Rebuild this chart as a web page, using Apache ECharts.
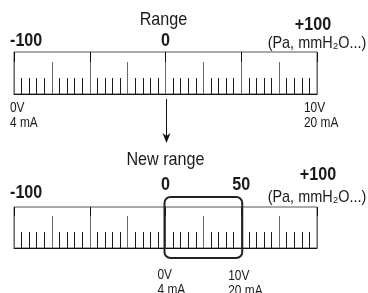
<!DOCTYPE html>
<html><head><meta charset="utf-8">
<script src="https://cdn.jsdelivr.net/npm/echarts@6/dist/echarts.min.js"></script>
<style>html,body{margin:0;padding:0;background:#fff}#c{width:368px;height:293px}</style>
</head><body><div id="c"></div>
<script>
// ---- data ----
const scaleMin = -100;
const scaleMax = 100;
const majorStep = 50;
const mediumStep = 25;
const minorPerMedium = 5;           // minor ticks every 5 units
const topTitle = 'Range';
const bottomTitle = 'New range';
const topLabelValues = [-100, 0, 100];
const topLabelTexts = ['-100', '0', '+100'];
const bottomLabelValues = [-100, 0, 50, 100];
const bottomLabelTexts = ['-100', '0', '50', '+100'];
const unitText = '(Pa, mmH\u2082O...)';
const topOutputValues = [-100, 100];
const bottomOutputValues = [0, 50];
const outputLowTexts = ['0V', '4 mA'];
const outputHighTexts = ['10V', '20 mA'];
const newRange = [0, 50];

const FN = '"Liberation Sans",Arial,sans-serif';
const NARROW = 0.85;
const chart = echarts.init(document.getElementById('c'), null, {renderer: 'canvas'});

function scaleAxes(gridIndex) {
  return [{
    gridIndex, type: 'value', min: scaleMin, max: scaleMax, interval: mediumStep, position: 'bottom',
    axisLine: {show: true, lineStyle: {color: '#111', width: 1}},
    axisTick: {show: true, inside: true, length: 32, lineStyle: {color: '#6a6a6a', width: 1}},
    minorTick: {show: true, splitNumber: minorPerMedium, length: 16, lineStyle: {color: '#1a1a1a', width: 1}},
    axisLabel: {show: false}, splitLine: {show: false}
  }, {
    gridIndex, type: 'value', min: scaleMin, max: scaleMax, interval: majorStep, position: 'bottom', offset: 0,
    axisLine: {show: false}, axisTick: {show: false}, axisLabel: {show: false},
    splitLine: {show: true, lineStyle: {color: '#111', width: 1}}
  }];
}

chart.setOption({
  animation: false,
  grid: [
    {left: 14, right: 51, top: 52, height: 42, show: true, borderColor: '#555', borderWidth: 1, backgroundColor: '#fff'},
    {left: 14, right: 51, top: 207, height: 41, show: true, borderColor: '#555', borderWidth: 1, backgroundColor: '#fff'}
  ],
  xAxis: [...scaleAxes(0), ...scaleAxes(1)],
  yAxis: [
    {gridIndex: 0, type: 'value', min: 0, max: 1, show: false},
    {gridIndex: 1, type: 'value', min: 0, max: 1, show: false}
  ],
  series: [{
    type: 'custom', xAxisIndex: 2, yAxisIndex: 1, clip: false, z: 10,
    data: [newRange],
    renderItem: function (params, api) {
      const p0 = api.coord([api.value(0), 1]);
      const p1 = api.coord([api.value(1), 0]);
      return {
        type: 'rect',
        shape: {x: p0[0] - 1, y: p0[1] - 10, width: p1[0] - p0[0] + 2, height: p1[1] - p0[1] + 20, r: 6},
        style: {fill: 'none', stroke: '#222', lineWidth: 2}
      };
    }
  }]
});

const px = (axis, v) => chart.convertToPixel({xAxisIndex: axis}, v);
function txt(x, y, text, size, bold, align) {
  return {type: 'text', x, y, scaleX: NARROW, scaleY: 1, z: 20,
    style: {text, x: 0, y: 0, font: (bold ? 'bold ' : '') + size + 'px ' + FN,
    fill: '#1a1a1a', align: align || 'center', verticalAlign: 'middle'}};
}
const g = [];
// titles
g.push(txt(px(0, 0) - 2, 20, topTitle, 19, false));
g.push(txt(px(2, 0), 159.5, bottomTitle, 19, false));
// top scale labels
const topY = [41, 41, 24.5];
topLabelValues.forEach((v, i) => {
  const x = px(0, v) + (i === 0 ? -4 : (i === 2 ? -4 : 0));
  g.push(txt(x, topY[i], topLabelTexts[i], 19, true, i === 0 ? 'left' : 'center'));
});
g.push(txt(px(0, scaleMax), 43, unitText, 17, false));
// bottom scale labels
const botY = [192.5, 185, 185, 175];
bottomLabelValues.forEach((v, i) => {
  const x = px(2, v) + (i === 0 ? -4 : (i === 3 ? 1 : 0));
  g.push(txt(x, botY[i], bottomLabelTexts[i], 19, true, i === 0 ? 'left' : 'center'));
});
g.push(txt(px(2, scaleMax), 197, unitText, 17, false));
// output labels
g.push(txt(px(0, topOutputValues[0]) - 4, 108.5, outputLowTexts[0], 14, false, 'left'));
g.push(txt(px(0, topOutputValues[0]) - 4, 123.5, outputLowTexts[1], 14, false, 'left'));
g.push(txt(px(0, topOutputValues[1]) - 13, 108.5, outputHighTexts[0], 14, false, 'left'));
g.push(txt(px(0, topOutputValues[1]) - 13, 123.5, outputHighTexts[1], 14, false, 'left'));
g.push(txt(px(2, bottomOutputValues[0]) - 8, 275, outputLowTexts[0], 14, false, 'left'));
g.push(txt(px(2, bottomOutputValues[0]) - 8, 290, outputLowTexts[1], 14, false, 'left'));
g.push(txt(px(2, bottomOutputValues[1]) - 13, 276, outputHighTexts[0], 14, false, 'left'));
g.push(txt(px(2, bottomOutputValues[1]) - 13, 291, outputHighTexts[1], 14, false, 'left'));
// arrow from top zero to new range
const ax = Math.round(px(0, 0)) + 0.5;
g.push({type: 'line', z: 20, shape: {x1: ax, y1: 99, x2: ax, y2: 138}, style: {stroke: '#111', lineWidth: 1}});
g.push({type: 'polygon', z: 20, shape: {points: [[ax, 143], [ax - 4, 133], [ax, 136], [ax + 4, 133]]}, style: {fill: '#111'}});
chart.setOption({graphic: g});
</script></body></html>
